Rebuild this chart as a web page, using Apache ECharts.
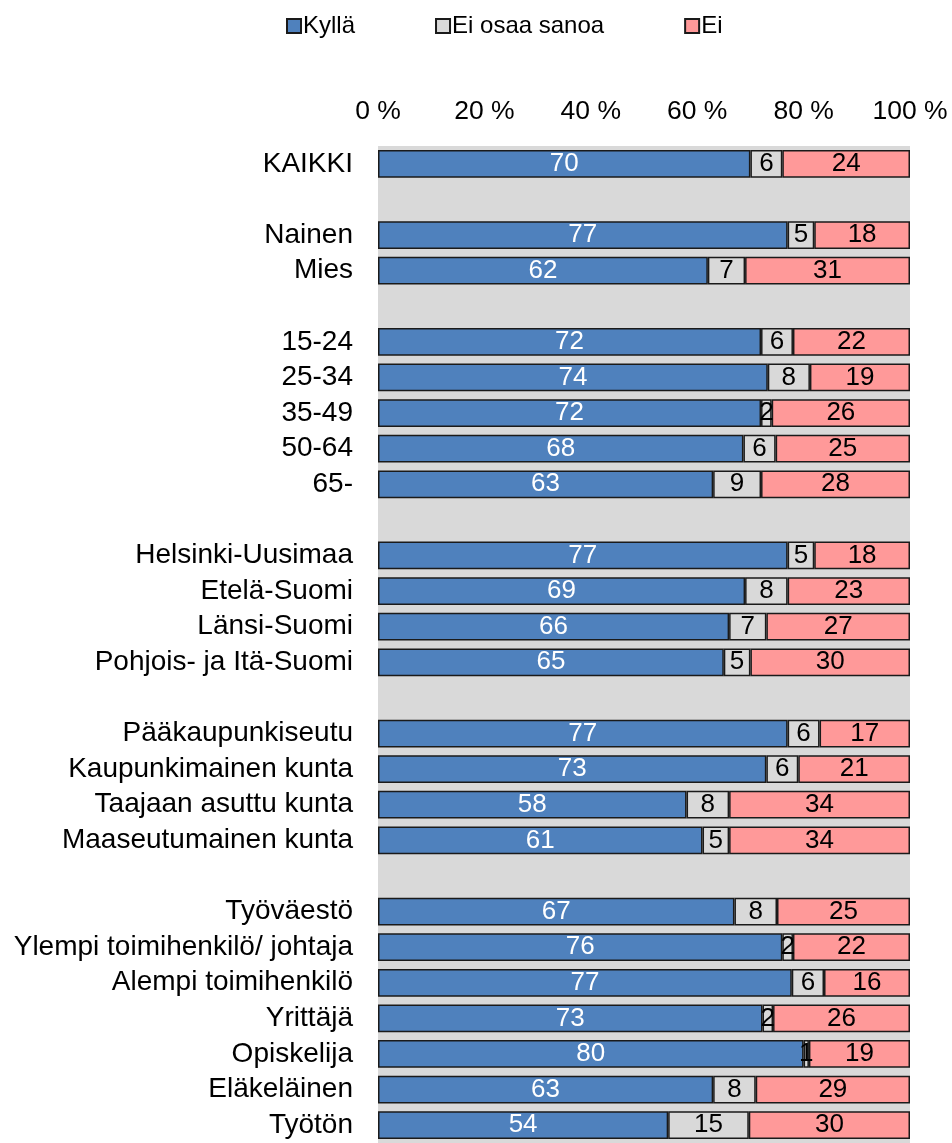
<!doctype html>
<html>
<head>
<meta charset="utf-8"/>
<title>Kyllä / Ei osaa sanoa / Ei</title>
<script src="https://cdn.jsdelivr.net/npm/echarts@6/dist/echarts.min.js"></script>
<style>
*{margin:0;padding:0;}
body{background:#ffffff;}
#main{width:952px;height:1143px;}
</style>
</head>
<body>
<div id="main"></div>
<script type="text/javascript">
// blank rows are separators between groups
var categories = [
  'KAIKKI', ' ',
  'Nainen', 'Mies', '  ',
  '15-24', '25-34', '35-49', '50-64', '65-', '   ',
  'Helsinki-Uusimaa', 'Etelä-Suomi', 'Länsi-Suomi', 'Pohjois- ja Itä-Suomi', '    ',
  'Pääkaupunkiseutu', 'Kaupunkimainen kunta', 'Taajaan asuttu kunta', 'Maaseutumainen kunta', '     ',
  'Työväestö', 'Ylempi toimihenkilö/ johtaja', 'Alempi toimihenkilö', 'Yrittäjä', 'Opiskelija', 'Eläkeläinen', 'Työtön'
];
var kylla = [70, null, 77, 62, null, 72, 74, 72, 68, 63, null, 77, 69, 66, 65, null, 77, 73, 58, 61, null, 67, 76, 77, 73, 80, 63, 54];
var eiOsaa = [6, null, 5, 7, null, 6, 8, 2, 6, 9, null, 5, 8, 7, 5, null, 6, 6, 8, 5, null, 8, 2, 6, 2, 1, 8, 15];
var ei = [24, null, 18, 31, null, 22, 19, 26, 25, 28, null, 18, 23, 27, 30, null, 17, 21, 34, 34, null, 25, 22, 16, 26, 19, 29, 30];
var xTicks = ['0 %', '20 %', '40 %', '60 %', '80 %', '100 %'];

var FONT = 'Liberation Sans, Arial, sans-serif';

// 100 % stacked: each row is scaled to its own total, labels keep the read value
function share(arr) {
  return arr.map(function (v, i) {
    if (v == null) return '-';
    var tot = kylla[i] + eiOsaa[i] + ei[i];
    return { value: v / tot * 100, raw: v };
  });
}

function mkSeries(name, arr, color, labelColor) {
  return {
    name: name,
    type: 'bar',
    stack: 'all',
    barCategoryGap: '22%',
    data: share(arr),
    itemStyle: { color: color, borderColor: '#1a1a1a', borderWidth: 1.5 },
    label: {
      show: true,
      position: 'inside',
      color: labelColor,
      fontFamily: FONT,
      fontSize: 26,
      formatter: function (p) { return p.data.raw; }
    },
    emphasis: { disabled: true }
  };
}

var chart = echarts.init(document.getElementById('main'));
var option = {
  animation: false,
  textStyle: { fontFamily: FONT },
  legend: {
    top: 9,
    left: 281,
    itemWidth: 14,
    itemHeight: 14,
    itemGap: 80,
    icon: 'rect',
    textStyle: { fontSize: 24, color: '#000', fontFamily: FONT, padding: [0, 0, 0, -3] },
    data: ['Kyllä', 'Ei osaa sanoa', 'Ei']
  },
  grid: {
    left: 378,
    right: 42,
    top: 146,
    bottom: -6,
    show: true,
    backgroundColor: '#d9d9d9',
    borderWidth: 0,
    containLabel: false
  },
  xAxis: {
    type: 'value',
    position: 'top',
    min: 0,
    max: 100,
    interval: 20,
    axisLine: { show: false },
    axisTick: { show: false },
    splitLine: { show: false },
    axisLabel: {
      margin: 21,
      fontSize: 26.5,
      color: '#000',
      fontFamily: FONT,
      formatter: function (v) { return xTicks[v / 20]; }
    }
  },
  yAxis: {
    type: 'category',
    inverse: true,
    data: categories,
    axisLine: { show: false },
    axisTick: { show: false },
    axisLabel: { margin: 25, fontSize: 28, color: '#000', fontFamily: FONT, interval: 0 }
  },
  series: [
    mkSeries('Kyllä', kylla, '#4f81bd', '#ffffff'),
    mkSeries('Ei osaa sanoa', eiOsaa, '#d9d9d9', '#000000'),
    mkSeries('Ei', ei, '#ff9999', '#000000')
  ]
};
chart.setOption(option);
</script>
</body>
</html>
